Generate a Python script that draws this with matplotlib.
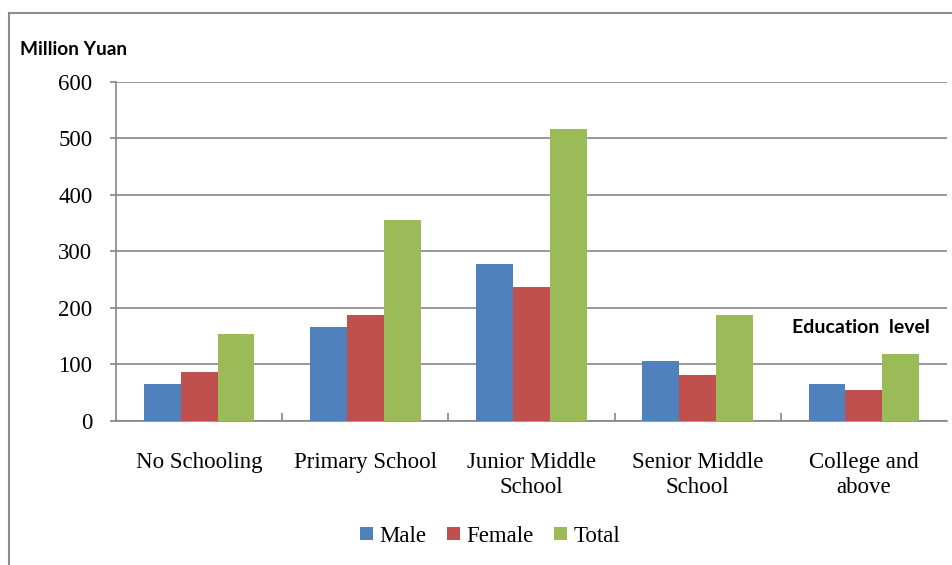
import numpy as np
import matplotlib.pyplot as plt
from matplotlib.lines import Line2D

categories = ["No Schooling", "Primary School", "Junior Middle\nSchool",
              "Senior Middle\nSchool", "College and\nabove"]
male = [66, 167, 278, 106, 65]
female = [86, 187, 238, 81, 54]
total = [154, 356, 516, 187, 119]
series_names = ["Male", "Female", "Total"]
colors = ["#4F81BD", "#C0504D", "#9BBB59"]

serif = "Liberation Serif"
sans = "Lato"
fs = 16.5

fig = plt.figure(figsize=(9.52, 5.65), dpi=100)
ax = fig.add_axes([0.1218, 0.2549, 0.8729, 0.6])

x = np.arange(len(categories))
w = 0.222
for i, (vals, name, c) in enumerate(zip([male, female, total], series_names, colors)):
    ax.bar(x + (i - 1) * w, vals, width=w, color=c, label=name, zorder=3)

ax.set_xlim(-0.5, len(categories) - 0.5)
ax.set_ylim(0, 600)
ax.set_yticks(range(0, 601, 100))
ax.yaxis.grid(True, color="#868686", linewidth=1.2, zorder=0)
ax.set_axisbelow(True)

for s in ["top", "right"]:
    ax.spines[s].set_visible(False)
for s in ["left", "bottom"]:
    ax.spines[s].set_color("#868686")
    ax.spines[s].set_linewidth(1.2)

# category labels centered, tick marks at boundaries
ax.set_xticks(x)
ax.set_xticklabels(categories, fontfamily=serif, fontsize=fs, linespacing=1.3)
ax.tick_params(axis="x", length=0, pad=22)
ax.set_xticks(np.arange(0.5, len(categories) - 0.5, 1), minor=True)
ax.tick_params(axis="x", which="minor", direction="in", length=6, color="#868686", width=1.2)
ax.tick_params(axis="y", direction="out", length=4, color="#868686", width=1.2, pad=13)
for lab in ax.get_yticklabels():
    lab.set_fontfamily(serif)
    lab.set_fontsize(fs)

fig.text(0.021, 0.912, "Million Yuan", fontfamily=sans, fontweight="bold",
         fontsize=13.8, ha="left", va="center")
ax.text(0.98, 0.275, "Education  level", transform=ax.transAxes, fontfamily=sans,
        fontweight="bold", fontsize=14, ha="right", va="center")

leg = fig.legend(loc="center", bbox_to_anchor=(0.515, 0.051), ncol=3, frameon=False,
                 prop={"family": serif, "size": fs}, handlelength=0.55, handleheight=0.55,
                 handletextpad=0.3, columnspacing=0.9)

# chart area border (left and top)
fig.add_artist(Line2D([0.0095, 0.0095], [0, 0.977], color="#8c8c8c", linewidth=1.5))
fig.add_artist(Line2D([0.0095, 1], [0.977, 0.977], color="#8c8c8c", linewidth=1.5))

fig.savefig("out.png", dpi=100)
